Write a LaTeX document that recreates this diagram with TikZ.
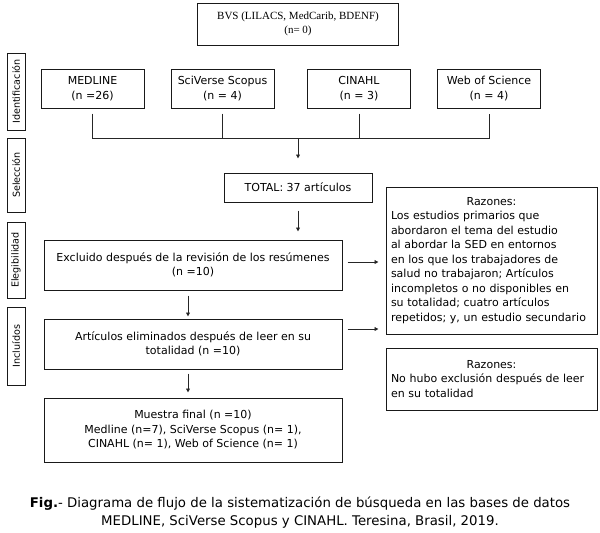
\documentclass[tikz,border=0pt]{standalone}
\usepackage{fontspec}
\setmainfont{DejaVu Sans}
\newfontfamily\bvsfont{Liberation Serif}
\usetikzlibrary{arrows.meta}
\hyphenpenalty=10000
\exhyphenpenalty=10000
\begin{document}
\begin{tikzpicture}[x=1pt,y=-1pt,
  box/.style={draw=black!90, line width=1pt, inner sep=0pt, align=center,
    font=\fontsize{11}{14.5}\selectfont},
  sidelab/.style={draw=black!90, line width=1pt, inner sep=0pt, rotate=90,
    minimum height=18pt, font=\fontsize{9.6}{10}\selectfont},
  link/.style={draw=black!85, line width=0.8pt},
  arr/.style={link, -{Triangle[length=4pt,width=3.8pt]}}]
\useasboundingbox (0,0) rectangle (600,533);
% top box
\node[box, minimum width=201pt, minimum height=42pt, font=\bvsfont\fontsize{11}{14}\selectfont]
  (bvs) at (298,24) {BVS (LILACS, MedCarib, BDENF)\\(n= 0)};
% side labels
\node[sidelab, minimum width=77pt] (lid) at (16,91.5) {Identificación};
\node[sidelab, minimum width=74pt] (lsel) at (16,175) {Selección};
\node[sidelab, minimum width=76pt] (lele) at (16,260) {Elegibilidad};
\node[sidelab, minimum width=78pt] (linc) at (16,346) {Incluídos};
% databases
\tikzset{db/.style={box, minimum width=103pt, minimum height=39pt, font=\fontsize{11}{15}\selectfont}}
\node[db] (med) at (92.5,88.5) {MEDLINE\\(n =26)};
\node[db] (sci) at (222.5,88.5) {SciVerse Scopus\\(n = 4)};
\node[db] (cin) at (359,88.5) {CINAHL\\(n = 3)};
\node[db] (wos) at (489,88.5) {Web of Science\\(n = 4)};
\coordinate (join) at (298,138);
\draw[link] ([yshift=-5pt]med.south) -- (med.south |- join) -- (wos.south |- join) -- ([yshift=-5pt]wos.south);
\draw[link] ([yshift=-5pt]sci.south) -- (sci.south |- join);
\draw[link] ([yshift=-5pt]cin.south) -- (cin.south |- join);
% total
\node[box, minimum width=148pt, minimum height=29pt] (total) at (298,187.5) {TOTAL: 37 artículos};
\draw[arr] (join) -- ([yshift=14pt]total.north);
% reasons 1
\node[box, minimum width=211pt, minimum height=147pt, align=left, text width=201pt]
  (raz1) at (491.5,260.5) {\makebox[201pt][c]{Razones:}\\Los estudios primarios que\\abordaron el tema del estudio\\al abordar la SED en entornos\\en los que los trabajadores de\\salud no trabajaron; Artículos\\incompletos o no disponibles en\\su totalidad; cuatro artículos\\repetidos; y, un estudio secundario};
% excluded
\node[box, minimum width=298pt, minimum height=50pt] (exc) at (193,265)
  {Excluido después de la revisión de los resúmenes\\(n =10)};
\draw[arr] ([yshift=-8pt]total.south) -- ([yshift=8pt]total.south |- exc.north);
\draw[arr] ([xshift=5pt,yshift=3pt]exc.east) -- ([xshift=-7pt,yshift=3pt]exc.east -| raz1.west);
% articles
\node[box, minimum width=298pt, minimum height=50pt] (art) at (193,344)
  {Artículos eliminados después de leer en su\\totalidad (n =10)};
\draw[arr] ([xshift=-5pt,yshift=-5pt]exc.south) -- ([xshift=-5pt,yshift=2pt]art.north);
% reasons 2
\node[box, minimum width=211pt, minimum height=62pt, align=left, text width=201pt]
  (raz2) at (491.5,379) {\makebox[201pt][c]{Razones:}\\No hubo exclusión después de leer\\en su totalidad};
\draw[arr] ([xshift=5pt,yshift=15pt]art.east) -- ([xshift=-7pt,yshift=15pt]art.east -| raz2.west);
% final sample
\node[box, minimum width=298pt, minimum height=64pt] (mue) at (193,430)
  {Muestra final (n =10)\\Medline (n=7), SciVerse Scopus (n= 1),\\CINAHL (n= 1), Web of Science (n= 1)};
\draw[arr] ([xshift=-5pt,yshift=-4pt]art.south) -- ([xshift=-5pt,yshift=5pt]mue.north);
% caption
\node[align=center, font=\fontsize{13.3}{18}\selectfont, inner sep=0pt] (cap) at (300,513)
  {\textbf{Fig.}- Diagrama de flujo de la sistematización de búsqueda en las bases de datos\\MEDLINE, SciVerse Scopus y CINAHL. Teresina, Brasil, 2019.};
\end{tikzpicture}
\end{document}
